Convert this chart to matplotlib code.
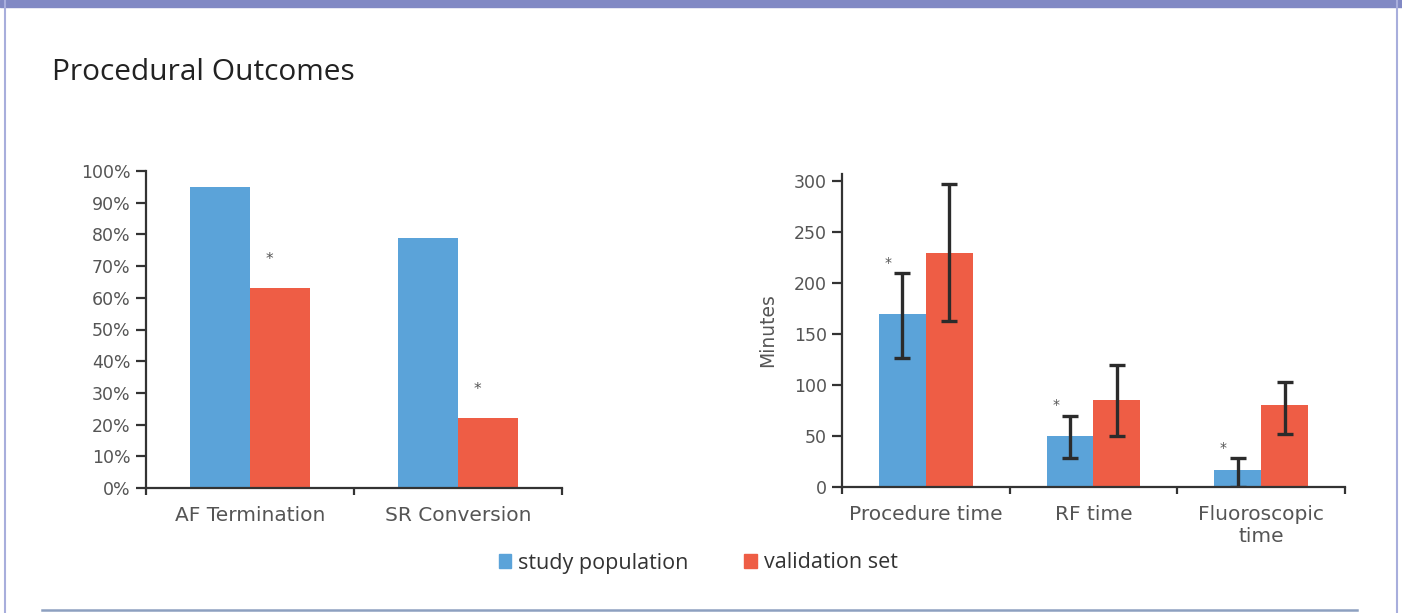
import numpy as np
import matplotlib
matplotlib.use("Agg")
import matplotlib.pyplot as plt
from matplotlib.patches import Rectangle
from matplotlib.lines import Line2D

# data
pct_cats = ["AF Termination", "SR Conversion"]
pct_study = [95, 79]
pct_valid = [63, 22]

time_cats = ["Procedure time", "RF time", "Fluoroscopic\ntime"]
time_study = [170, 50, 17]
time_study_lo = [127, 28, 0]
time_study_hi = [210, 70, 28]
time_valid = [230, 85, 80]
time_valid_lo = [163, 50, 52]
time_valid_hi = [297, 120, 103]

BLUE = "#5BA3D9"
RED = "#EE5D45"
AXC = "#333333"
TXT = "#555555"

plt.rcParams["font.family"] = "DejaVu Sans"

W, H = 1402, 613
fig = plt.figure(figsize=(W / 100, H / 100), dpi=100)


def px_axes(x0, y_top, x1, y_bot):
    return fig.add_axes([x0 / W, 1 - y_bot / H, (x1 - x0) / W, (y_bot - y_top) / H])


def style(ax, ncat):
    for s in ["top", "right"]:
        ax.spines[s].set_visible(False)
    for s in ["left", "bottom"]:
        ax.spines[s].set_color(AXC)
        ax.spines[s].set_linewidth(1.6)
    ax.set_xlim(-0.5, ncat - 0.5)
    ax.set_xticks(np.arange(ncat + 1) - 0.5)
    ax.set_xticklabels([])
    ax.tick_params(axis="x", which="major", length=5, width=1.6, color=AXC)
    ax.tick_params(axis="y", length=7, width=1.6, color=AXC, labelsize=12.5,
                   labelcolor=TXT, pad=4)
    ax.tick_params(axis="x", which="minor", length=0, labelsize=14.5,
                   labelcolor=TXT, pad=13)


bw = 0.29

# ---- left: percentages
ax1 = px_axes(146, 171, 562, 488)
x = np.arange(len(pct_cats))
ax1.bar(x - bw / 2, pct_study, bw, color=BLUE)
ax1.bar(x + bw / 2, pct_valid, bw, color=RED)
ax1.set_ylim(0, 100)
ax1.set_yticks(range(0, 101, 10))
ax1.set_yticklabels([f"{v}%" for v in range(0, 101, 10)])
style(ax1, len(pct_cats))
ax1.set_xticks(x, minor=True)
ax1.set_xticklabels(pct_cats, minor=True)
for i, v in enumerate(pct_valid):
    ax1.text(i + bw / 2 - 0.05, v + 9, "*", ha="center", va="center",
             fontsize=11, color=TXT)

# ---- right: minutes
ax2 = px_axes(842, 174, 1345, 487)
x = np.arange(len(time_cats))
bw2 = 0.28
s_err = [np.subtract(time_study, time_study_lo), np.subtract(time_study_hi, time_study)]
v_err = [np.subtract(time_valid, time_valid_lo), np.subtract(time_valid_hi, time_valid)]
ax2.bar(x - bw2 / 2, time_study, bw2, color=BLUE)
ax2.bar(x + bw2 / 2, time_valid, bw2, color=RED)
ax2.errorbar(x - bw2 / 2, time_study, yerr=s_err, fmt="none", ecolor="#2b2b2b",
             elinewidth=2.4, capsize=6, capthick=2.4)
ax2.errorbar(x + bw2 / 2, time_valid, yerr=v_err, fmt="none", ecolor="#2b2b2b",
             elinewidth=2.4, capsize=6, capthick=2.4)
ax2.set_ylim(0, 307)
ax2.set_yticks(range(0, 301, 50))
style(ax2, len(time_cats))
ax2.set_xticks(x, minor=True)
ax2.set_xticklabels(time_cats, minor=True, linespacing=1.2)
ax2.set_ylabel("Minutes", fontsize=13.5, color=TXT, labelpad=12)
for i, hi in enumerate(time_study_hi):
    ax2.text(i - bw2 / 2 - 0.085, hi + 10, "*", ha="center", va="center",
             fontsize=10, color=TXT)

# ---- title, legend, frame
fig.text(52 / W, 1 - 73 / H, "Procedural Outcomes", fontsize=21.5,
         family="Open Sans", color="#222222", va="center", ha="left")

handles = [Rectangle((0, 0), 1, 1, color=BLUE), Rectangle((0, 0), 1, 1, color=RED)]
fig.legend(handles, ["study population", "validation set"], loc="center",
           bbox_to_anchor=(698 / W, 1 - 563 / H), ncol=2, frameon=False,
           handlelength=0.6, handleheight=0.6, handletextpad=0.3,
           columnspacing=2.6, prop={"family": "Open Sans", "size": 15.5},
           labelcolor="#333333")

border = "#8189C4"
fig.patches.append(Rectangle((0, 1 - 7 / H), 1, 7 / H, transform=fig.transFigure,
                             color=border, zorder=0))
fig.lines.append(Line2D([4.5 / W, 4.5 / W], [0, 1], transform=fig.transFigure,
                        color="#A8AEDC", lw=1.5))
fig.lines.append(Line2D([1396.5 / W, 1396.5 / W], [0, 1], transform=fig.transFigure,
                        color="#A8AEDC", lw=1.5))
fig.lines.append(Line2D([42 / W, 1357 / W], [1 - 610 / H, 1 - 610 / H],
                        transform=fig.transFigure, color="#8DA0C0", lw=1.8))

fig.savefig("out.png", dpi=100)
